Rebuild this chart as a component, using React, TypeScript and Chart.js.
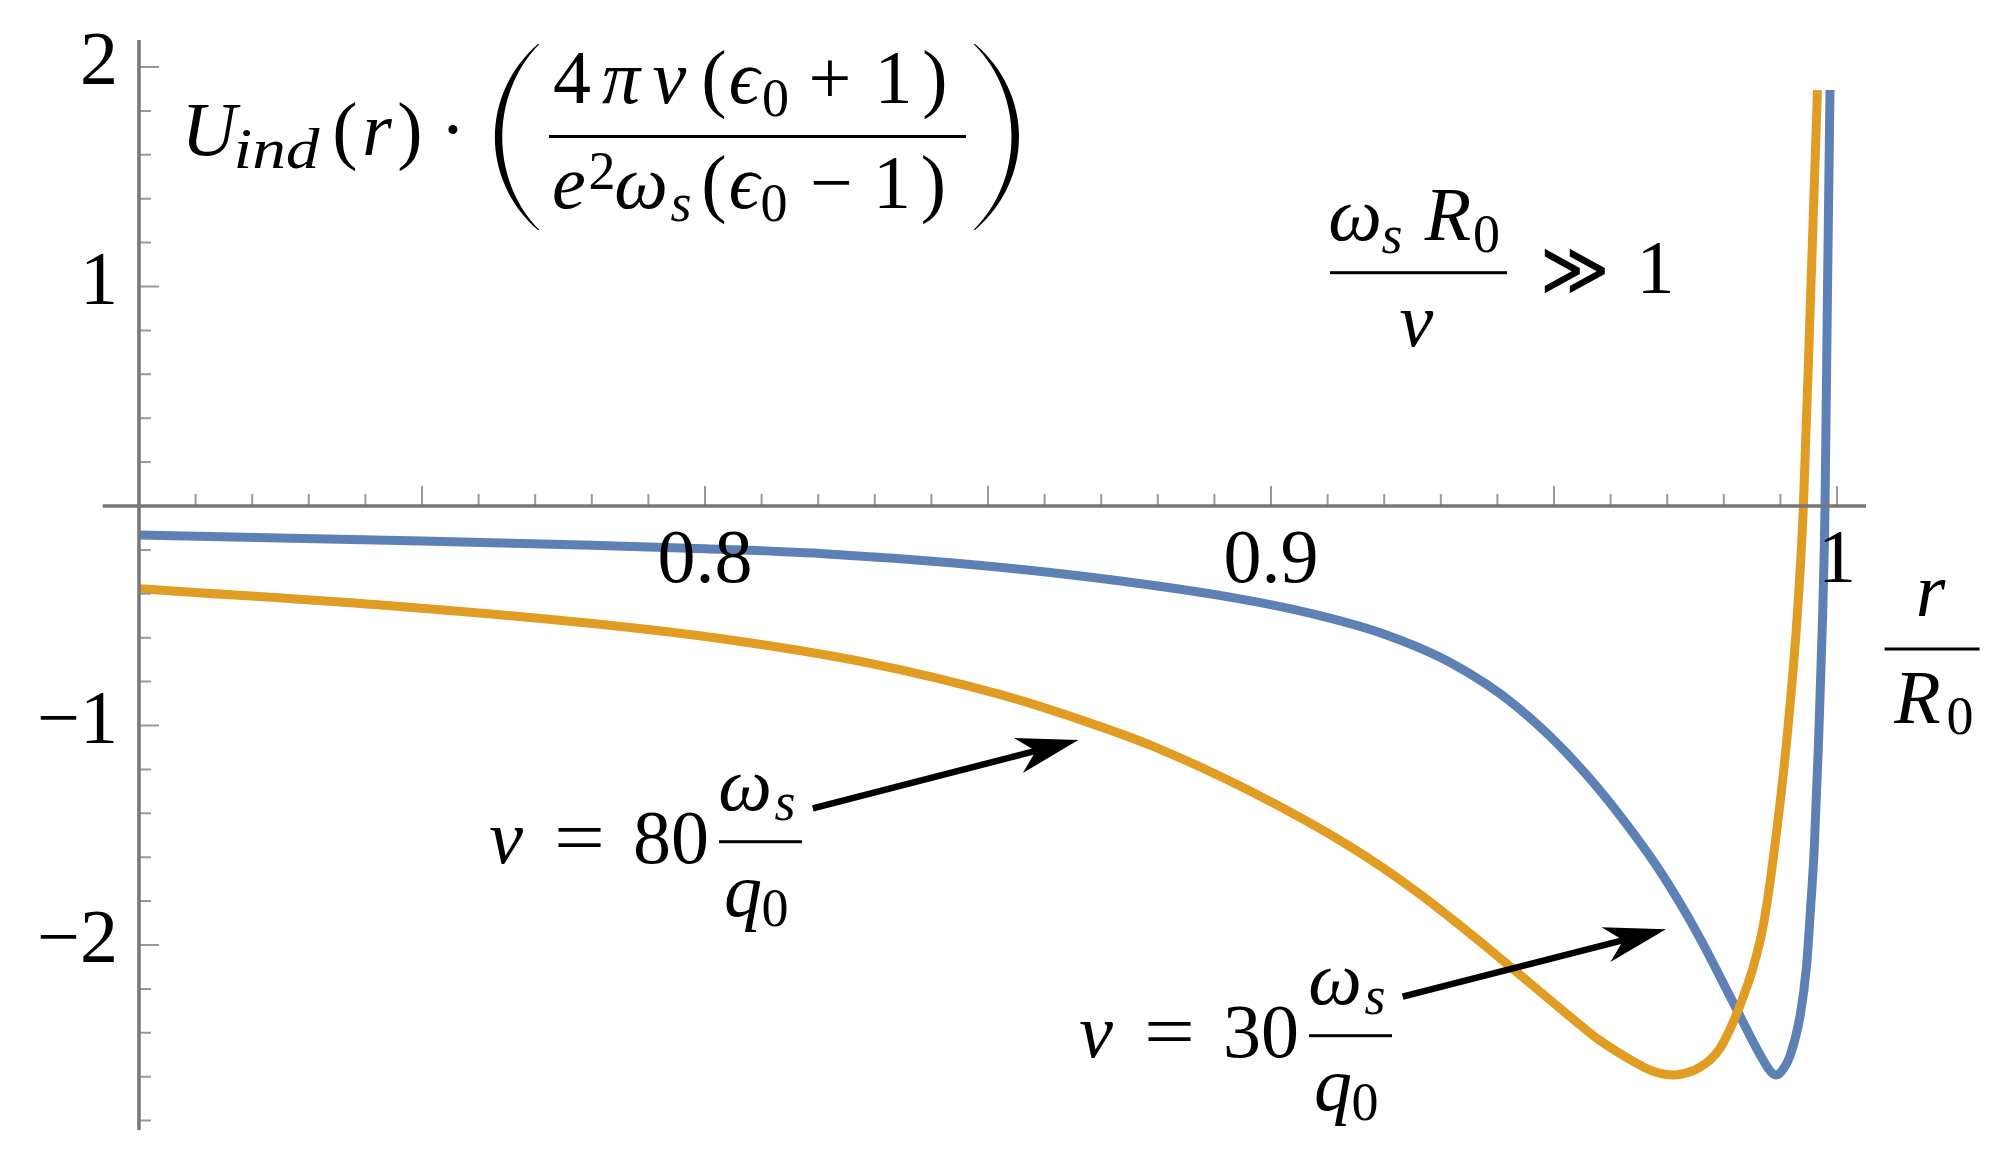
import React, { useEffect, useRef } from "react";
import { Chart, registerables } from "chart.js";

Chart.register(...registerables);

// ---- data (r / R0 , scaled U_ind) ----
const blueR = [0.700, 0.750, 0.780, 0.800, 0.8209, 0.8445, 0.8682, 0.894, 0.9081, 0.9199, 0.9316, 0.9434, 0.9552, 0.967, 0.9717, 0.9758, 0.9817, 0.9865, 0.9884, 0.9893, 0.9905, 0.9917, 0.9935, 0.9946, 0.99523, 0.99599, 0.9967, 0.99747, 0.99788, 0.99831, 0.99876];
const blueU = [-0.132, -0.1595, -0.179, -0.195, -0.217, -0.261, -0.325, -0.421, -0.496, -0.583, -0.712, -0.913, -1.208, -1.597, -1.785, -1.9695, -2.2645, -2.5045, -2.5805, -2.592, -2.565, -2.505, -2.32, -2.10, -1.871, -1.552, -1.096, -0.489, 0, 0.969, 1.895];

const orangeR = [0.700, 0.7466, 0.7814, 0.8051, 0.8288, 0.8524, 0.8682, 0.8793, 0.8963, 0.914, 0.9257, 0.9369, 0.946, 0.9556, 0.9581, 0.9640, 0.9675, 0.9711, 0.97432, 0.97579, 0.97756, 0.97933, 0.98168, 0.98345, 0.98521, 0.98698, 0.98876, 0.99101, 0.99300, 0.99406, 0.99535, 0.99654];
const orangeU = [-0.377, -0.459, -0.539, -0.6125, -0.7144, -0.8607, -0.9903, -1.0962, -1.2985, -1.5516, -1.7564, -1.9838, -2.1795, -2.385, -2.435, -2.530, -2.575, -2.592, -2.575, -2.556, -2.524, -2.471, -2.35, -2.235, -2.099, -1.91, -1.60, -1.096, -0.489, 0, 0.969, 1.895];

// ---- axes ----
const xRange = [0.69359, 1.00512];
const yRange = [-2.8428, 2.123];
const axisOriginX = 0.7;
const xMajorTicks = [0.75, 0.8, 0.85, 0.9, 0.95, 1.0];
const xLabelValues = [0.8, 0.9, 1.0];
const xLabelTexts = ["0.8", "0.9", "1"];
const xMinorStep = 0.01;
const yMajorTicks = [-2, -1, 1, 2];
const yLabelTexts = ["\u22122", "\u22121", "1", "2"];
const yMinorStep = 0.2;

// ---- annotation anchors (data coordinates) ----
const titleAnchor = [0.70742, 1.59909];
const regimeAnchor = [0.91042, 1.06287];
const xTitleAnchor = [1.0084, -0.65148];
const label80Anchor = [0.76184, -1.62642];
const label30Anchor = [0.86608, -2.51025];
const arrow80 = [0.81905, -1.37722, 0.86597, -1.06606];
const arrow30 = [0.92326, -2.23554, 0.96978, -1.92847];

const BLUE = "#5E81B5";
const ORANGE = "#E19C24";
const AXIS_COLOR = "#777777";
const TICK_COLOR = "#9a9a9a";
const FONT = '"Liberation Serif", "DejaVu Serif", serif';
const BIG = 76;
const SMALL = 54;

function txt(ctx: CanvasRenderingContext2D, s: string, x: number, y: number, size: number, italic = false, align: CanvasTextAlign = "left") {
  ctx.font = `${italic ? "italic " : ""}${size}px ${FONT}`;
  ctx.textAlign = align;
  ctx.textBaseline = "alphabetic";
  ctx.fillStyle = "#000";
  ctx.fillText(s, x, y);
}

// centred glyph, optionally stretched to a given width
function tc(ctx: CanvasRenderingContext2D, s: string, cx: number, y: number, size: number, italic = false, w = 0, font = FONT, weight = "") {
  ctx.font = `${italic ? "italic " : ""}${weight ? weight + " " : ""}${size}px ${font}`;
  ctx.textAlign = "center";
  ctx.textBaseline = "alphabetic";
  ctx.fillStyle = "#000";
  if (w > 0) {
    const m = ctx.measureText(s).width;
    ctx.save();
    ctx.translate(cx, y);
    ctx.scale(w / m, 1);
    ctx.fillText(s, 0, 0);
    ctx.restore();
  } else {
    ctx.fillText(s, cx, y);
  }
}

function bar(ctx: CanvasRenderingContext2D, x1: number, x2: number, y: number) {
  ctx.fillStyle = "#000";
  ctx.fillRect(x1, y - 1.5, x2 - x1, 3);
}

function bigParen(ctx: CanvasRenderingContext2D, xEnd: number, xBulge: number, yTop: number, yBot: number, thick: number) {
  const h = yBot - yTop;
  const dir = xBulge < xEnd ? 1 : -1;
  const cOut = (4 * xBulge - xEnd) / 3;
  const cIn = (4 * (xBulge + dir * thick) - xEnd) / 3;
  ctx.beginPath();
  ctx.moveTo(xEnd, yTop);
  ctx.bezierCurveTo(cOut, yTop + h * 0.27, cOut, yBot - h * 0.27, xEnd, yBot);
  ctx.lineTo(xEnd + dir * 1.5, yBot);
  ctx.bezierCurveTo(cIn, yBot - h * 0.27, cIn, yTop + h * 0.27, xEnd + dir * 1.5, yTop);
  ctx.closePath();
  ctx.fillStyle = "#000";
  ctx.fill();
}

function arrow(ctx: CanvasRenderingContext2D, x1: number, y1: number, x2: number, y2: number) {
  const dx = x2 - x1, dy = y2 - y1;
  const len = Math.hypot(dx, dy);
  const ux = dx / len, uy = dy / len;
  const nx = -uy, ny = ux;
  const L = 62, W = 18, N = 44;
  ctx.strokeStyle = "#000";
  ctx.lineWidth = 6.5;
  ctx.lineCap = "butt";
  ctx.beginPath();
  ctx.moveTo(x1, y1);
  ctx.lineTo(x2 - ux * N, y2 - uy * N);
  ctx.stroke();
  ctx.fillStyle = "#000";
  ctx.beginPath();
  ctx.moveTo(x2, y2);
  ctx.lineTo(x2 - ux * L + nx * W, y2 - uy * L + ny * W);
  ctx.lineTo(x2 - ux * N, y2 - uy * N);
  ctx.lineTo(x2 - ux * L - nx * W, y2 - uy * L - ny * W);
  ctx.closePath();
  ctx.fill();
}

function speedLabel(ctx: CanvasRenderingContext2D, x: number, y: number, n: string) {
  tc(ctx, "v", x + 17, y, BIG, true);
  tc(ctx, "=", x + 90.5, y, BIG, false, 51);
  tc(ctx, n, x + 182, y, BIG);
  bar(ctx, x + 230, x + 313, y - 21.3);
  tc(ctx, "\u03C9", x + 256, y - 53, BIG, true);
  tc(ctx, "s", x + 296, y - 43, SMALL, true);
  tc(ctx, "q", x + 254, y + 53, BIG, true);
  tc(ctx, "0", x + 286, y + 63, SMALL);
}

const overlay = {
  id: "mathOverlay",
  afterDatasetsDraw(chart: any) {
    const ctx: CanvasRenderingContext2D = chart.ctx;
    const xs = chart.scales.x, ys = chart.scales.y;
    const X = (v: number) => xs.getPixelForValue(v);
    const Y = (v: number) => ys.getPixelForValue(v);
    const ca = chart.chartArea;
    ctx.save();
    const y0 = Y(0), x0 = X(axisOriginX);

    // ticks
    ctx.strokeStyle = TICK_COLOR;
    ctx.lineWidth = 2;
    ctx.beginPath();
    for (let k = Math.round(axisOriginX / xMinorStep) + 1; k * xMinorStep < xRange[1]; k++) {
      const v = k * xMinorStep;
      const major = xMajorTicks.some((m) => Math.abs(m - v) < 1e-6);
      const px = X(v);
      ctx.moveTo(px, y0);
      ctx.lineTo(px, y0 - (major ? 20 : 12));
    }
    for (let k = Math.ceil(yRange[0] / yMinorStep); k * yMinorStep < yRange[1]; k++) {
      const v = k * yMinorStep;
      if (Math.abs(v) < 1e-6) continue;
      const major = yMajorTicks.some((m) => Math.abs(m - v) < 1e-6);
      const py = Y(v);
      ctx.moveTo(x0, py);
      ctx.lineTo(x0 + (major ? 20 : 12), py);
    }
    ctx.stroke();

    // axis lines
    ctx.strokeStyle = AXIS_COLOR;
    ctx.lineWidth = 3.5;
    ctx.beginPath();
    ctx.moveTo(ca.left, y0);
    ctx.lineTo(ca.right, y0);
    ctx.moveTo(x0, ca.top);
    ctx.lineTo(x0, ca.bottom);
    ctx.stroke();

    // tick labels
    xLabelValues.forEach((v, i) => txt(ctx, xLabelTexts[i], X(v), y0 + 76, BIG, false, "center"));
    yMajorTicks.forEach((v, i) => txt(ctx, yLabelTexts[i], x0 - 21, Y(v) + 17, BIG, false, "right"));

    // title formula
    {
      const ax = X(titleAnchor[0]), ay = Y(titleAnchor[1]);
      tc(ctx, "U", ax + 28, ay, BIG, true);
      tc(ctx, "ind", ax + 95.5, ay + 13, 56, true, 86);
      tc(ctx, "(", ax + 164, ay, BIG);
      tc(ctx, "r", ax + 196, ay, BIG, true);
      tc(ctx, ")", ax + 229, ay, BIG);
      tc(ctx, "\u00B7", ax + 272, ay, BIG);
      bigParen(ctx, ax + 357, ax + 314, ay - 111, ay + 75, 7);
      // numerator
      const nb = ay - 52;
      tc(ctx, "4", ax + 391, nb, BIG);
      tc(ctx, "\u03C0", ax + 440, nb, BIG, true);
      tc(ctx, "v", ax + 488.5, nb, BIG, true);
      tc(ctx, "(", ax + 533, nb, BIG);
      tc(ctx, "\u03F5", ax + 563, nb, BIG, true);
      tc(ctx, "0", ax + 594.5, nb + 13, SMALL);
      tc(ctx, "+", ax + 649, nb, BIG);
      tc(ctx, "1", ax + 712.5, nb, BIG);
      tc(ctx, ")", ax + 754, nb, BIG);
      bar(ctx, ax + 368, ax + 785, ay - 18.5);
      // denominator
      const db = ay + 53;
      tc(ctx, "e", ax + 388, db, BIG, true);
      tc(ctx, "2", ax + 421, ay + 34, SMALL);
      tc(ctx, "\u03C9", ax + 460, db, BIG, true);
      tc(ctx, "s", ax + 500, db + 13, SMALL, true);
      tc(ctx, "(", ax + 533, db, BIG);
      tc(ctx, "\u03F5", ax + 563, db, BIG, true);
      tc(ctx, "0", ax + 593, db + 13, SMALL);
      tc(ctx, "\u2212", ax + 650.5, db, BIG);
      tc(ctx, "1", ax + 711, db, BIG);
      tc(ctx, ")", ax + 752.5, db, BIG);
      bigParen(ctx, ax + 794, ax + 838, ay - 111, ay + 75, 7);
    }

    // regime  ωs R0 / v >> 1
    {
      const ax = X(regimeAnchor[0]), ay = Y(regimeAnchor[1]);
      tc(ctx, "\u03C9", ax + 25, ay - 33, BIG, true);
      tc(ctx, "s", ax + 62, ay - 20, SMALL, true);
      tc(ctx, "R", ax + 118, ay - 33, BIG, true);
      tc(ctx, "0", ax + 156.5, ay - 21, SMALL);
      bar(ctx, ax, ax + 177, ay);
      tc(ctx, "v", ax + 86.5, ay + 73, BIG, true);
      tc(ctx, "\u226B", ax + 245.5, ay + 22, BIG, false, 70, '"DejaVu Sans", "DejaVu Serif", sans-serif', "200");
      tc(ctx, "1", ax + 325.5, ay + 20, BIG);
    }

    // x-axis title r / R0
    {
      const ax = X(xTitleAnchor[0]), ay = Y(xTitleAnchor[1]);
      tc(ctx, "r", ax + 46, ay - 33, BIG, true);
      bar(ctx, ax, ax + 95, ay);
      tc(ctx, "R", ax + 33, ay + 74, BIG, true);
      tc(ctx, "0", ax + 75.5, ay + 85, SMALL);
    }

    // speed labels and arrows
    speedLabel(ctx, X(label80Anchor[0]), Y(label80Anchor[1]), "80");
    speedLabel(ctx, X(label30Anchor[0]), Y(label30Anchor[1]), "30");
    arrow(ctx, X(arrow80[0]), Y(arrow80[1]), X(arrow80[2]), Y(arrow80[3]));
    arrow(ctx, X(arrow30[0]), Y(arrow30[1]), X(arrow30[2]), Y(arrow30[3]));

    ctx.restore();
  },
};

export default function App() {
  const ref = useRef<HTMLCanvasElement | null>(null);
  useEffect(() => {
    if (!ref.current) return;
    const chart = new Chart(ref.current, {
      type: "line",
      data: {
        datasets: [
          {
            label: "v = 30 ωs/q0",
            data: orangeR.map((r, i) => ({ x: r, y: orangeU[i] })),
            borderColor: ORANGE,
            borderWidth: 9,
            pointRadius: 0,
            fill: false,
            cubicInterpolationMode: "monotone",
            order: 1,
          },
          {
            label: "v = 80 ωs/q0",
            data: blueR.map((r, i) => ({ x: r, y: blueU[i] })),
            borderColor: BLUE,
            borderWidth: 9,
            pointRadius: 0,
            fill: false,
            cubicInterpolationMode: "monotone",
            order: 2,
          },
        ],
      },
      options: {
        animation: false,
        responsive: false,
        devicePixelRatio: 1,
        layout: { padding: { left: 102.7, right: 132, top: 40, bottom: 22 } },
        scales: {
          x: { type: "linear", min: xRange[0], max: xRange[1], display: false },
          y: { type: "linear", min: yRange[0], max: yRange[1], display: false },
        },
        plugins: { legend: { display: false }, tooltip: { enabled: false } },
      },
      plugins: [overlay],
    } as any);
    return () => chart.destroy();
  }, []);
  return (
    <div style={{ position: "absolute", left: 0, top: 0, width: 1998, height: 1152, background: "#fff" }}>
      <canvas ref={ref} width={1998} height={1152} style={{ display: "block", width: 1998, height: 1152 }} />
    </div>
  );
}
